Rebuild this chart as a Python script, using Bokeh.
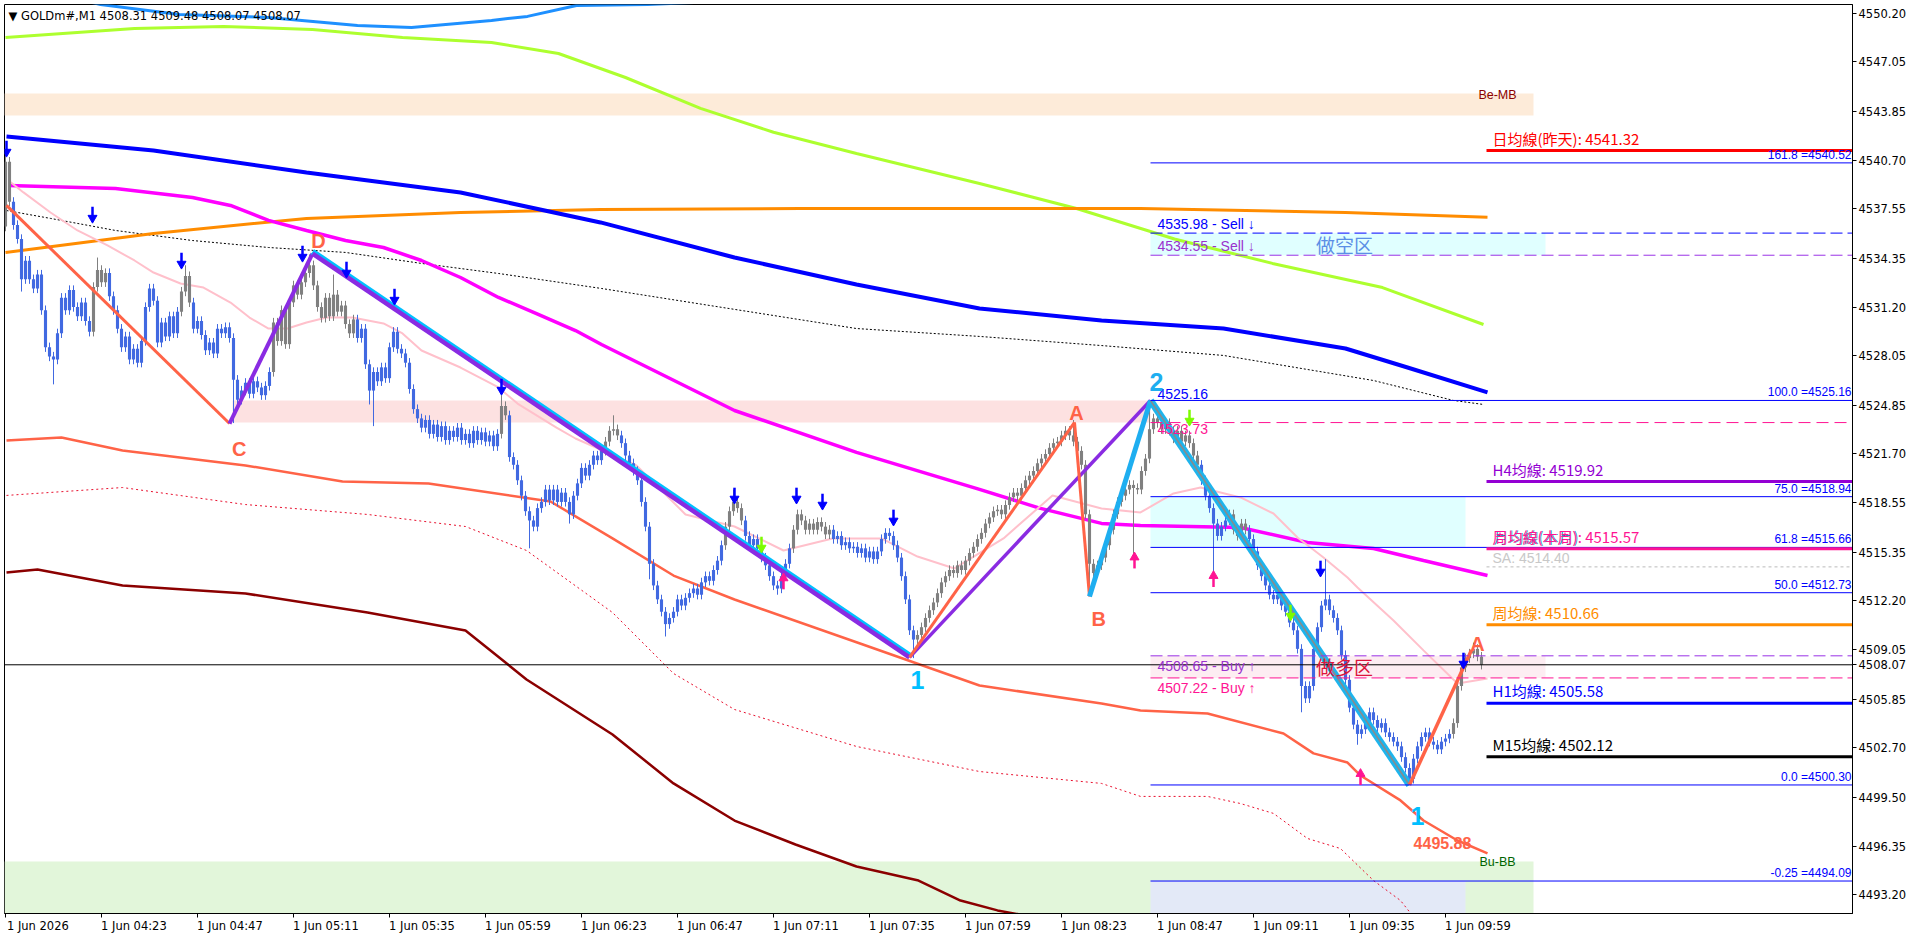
from bokeh.plotting import figure
from bokeh.models import Range1d, FixedTicker, BoxAnnotation, LinearAxis
from bokeh.core.properties import value
from bokeh.embed import file_html
from bokeh.resources import INLINE

# ---------------- data ----------------
x_tick_bars = [0, 24, 48, 72, 96, 120, 144, 168, 192, 216, 240, 264, 288, 312, 336, 360]
x_tick_labels = ["1 Jun 2026", "1 Jun 04:23", "1 Jun 04:47", "1 Jun 05:11", "1 Jun 05:35",
                 "1 Jun 05:59", "1 Jun 06:23", "1 Jun 06:47", "1 Jun 07:11", "1 Jun 07:35",
                 "1 Jun 07:59", "1 Jun 08:23", "1 Jun 08:47", "1 Jun 09:11", "1 Jun 09:35",
                 "1 Jun 09:59"]
y_ticks = [4493.20, 4496.35, 4499.50, 4502.70, 4505.85, 4509.05, 4512.20, 4515.35, 4518.55,
           4521.70, 4524.85, 4528.05, 4531.20, 4534.35, 4537.55, 4540.70, 4543.85, 4547.05,
           4550.20]

open_first = 4536.4
closes = [
    4540.6, 4538.0, 4536.5, 4535.6, 4533.0, 4534.2, 4533.0, 4532.4, 4533.3, 4531.0,
    4528.6, 4528.0, 4527.8, 4529.5, 4531.8, 4531.0, 4532.3, 4531.2, 4530.6, 4531.5,
    4530.3, 4529.6, 4532.5, 4533.6, 4532.8, 4533.4, 4531.9, 4531.0, 4529.8, 4528.6,
    4529.3, 4527.8, 4528.5, 4527.6, 4529.0, 4531.2, 4532.4, 4531.6, 4528.9, 4530.2,
    4529.3, 4530.6, 4529.5, 4530.9, 4532.2, 4533.2, 4531.5, 4529.8, 4530.3, 4529.4,
    4528.4, 4528.9, 4528.2, 4529.8, 4529.5, 4529.9, 4529.2, 4526.5, 4525.2, 4525.8,
    4526.3, 4525.6, 4526.4, 4526.0, 4525.5, 4526.1, 4527.0, 4530.2, 4529.0, 4531.0,
    4528.8, 4531.5, 4532.6, 4532.0, 4532.8, 4533.4, 4533.9, 4532.6, 4531.2, 4530.5,
    4531.8, 4530.6, 4532.0, 4530.9, 4531.3, 4530.1, 4529.5, 4530.4, 4529.2, 4529.8,
    4527.5, 4525.8, 4527.0, 4526.4, 4527.3, 4526.6, 4528.6, 4529.6, 4528.5, 4528.2,
    4527.6, 4525.9, 4524.6, 4524.0, 4523.4, 4523.9, 4523.0, 4523.6, 4522.8, 4523.5,
    4522.6, 4523.2, 4522.8, 4523.4, 4522.6, 4523.0, 4522.4, 4523.2, 4522.6, 4523.1,
    4522.5, 4522.9, 4522.2, 4523.0, 4524.8, 4524.2, 4521.5, 4521.0, 4520.0, 4519.0,
    4518.0, 4517.4, 4517.0, 4518.2, 4518.6, 4519.4, 4518.7, 4519.4, 4518.6, 4519.2,
    4518.6, 4517.8, 4519.0, 4519.8, 4520.8, 4520.3, 4521.0, 4521.6, 4521.3, 4521.9,
    4522.5, 4523.2, 4523.3, 4522.9, 4522.4, 4521.6, 4521.1, 4520.6, 4520.0, 4518.6,
    4517.0, 4514.6, 4513.2, 4512.3, 4511.5, 4510.7, 4511.1, 4511.5, 4512.3, 4511.9,
    4512.4, 4512.7, 4513.0, 4512.6, 4513.4, 4513.8, 4513.5, 4514.2, 4514.8, 4515.8,
    4517.0, 4518.0, 4518.6, 4518.2, 4517.4, 4516.4, 4515.8, 4516.2, 4515.6, 4515.0,
    4514.5, 4513.8, 4513.2, 4513.0, 4513.8, 4514.6, 4515.6, 4516.8, 4517.8, 4517.4,
    4516.8, 4517.2, 4516.8, 4517.3, 4517.0, 4516.5, 4516.8, 4516.2, 4516.4, 4515.8,
    4516.0, 4515.6, 4515.7, 4515.3, 4515.6, 4515.0, 4515.4, 4514.9, 4515.4, 4516.2,
    4516.6, 4516.4, 4515.8, 4515.0, 4513.8, 4512.3, 4510.3, 4509.7, 4510.0, 4510.5,
    4511.1, 4511.6, 4512.1, 4512.7, 4513.4, 4513.8, 4514.2, 4514.0, 4514.5, 4514.2,
    4514.8, 4515.3, 4515.7, 4516.2, 4516.6, 4517.2, 4517.6, 4518.0, 4518.1, 4517.8,
    4518.4, 4518.9, 4519.2, 4519.0, 4519.5, 4520.0, 4520.3, 4520.6, 4521.1, 4521.4,
    4521.7, 4522.1, 4522.4, 4522.5, 4522.9, 4523.2, 4522.9, 4522.5, 4521.9, 4521.0,
    4517.8, 4514.6, 4514.0, 4514.5, 4515.0, 4515.8, 4516.8, 4517.8, 4518.6, 4519.0,
    4519.4, 4519.7, 4519.5, 4519.4, 4520.6, 4521.4, 4523.3, 4524.0, 4523.7, 4523.3,
    4523.7, 4523.2, 4522.7, 4523.2, 4522.5, 4522.9, 4522.4, 4521.6, 4521.0, 4520.0,
    4519.0, 4518.2, 4517.2, 4516.4, 4517.0, 4517.4, 4517.8, 4516.8, 4516.4, 4517.2,
    4516.8, 4516.2, 4515.4, 4514.5, 4513.8, 4513.2, 4512.6, 4512.3, 4512.6, 4511.9,
    4511.5, 4510.8, 4510.3, 4509.1, 4506.7, 4505.9, 4506.7, 4509.1, 4510.5, 4511.9,
    4512.3, 4511.6, 4511.1, 4510.3, 4508.7, 4507.1, 4505.3, 4504.2, 4503.6, 4503.9,
    4504.3, 4505.0, 4504.5, 4504.0, 4504.3, 4503.7, 4503.4, 4503.1, 4502.8, 4502.1,
    4501.4, 4500.7, 4502.0, 4502.8, 4503.4, 4503.7, 4503.1, 4502.9, 4502.6, 4503.1,
    4503.3, 4503.6, 4504.3, 4506.7, 4507.9, 4508.5, 4508.8, 4509.1, 4508.6, 4508.07,
]
spike_hi_bars = [0, 23, 45, 76, 82, 124, 152, 182, 267, 286, 330, 367]
spike_hi_vals = [4541.0, 4534.4, 4533.9, 4534.6, 4533.3, 4525.5, 4524.2, 4519.4, 4523.9, 4525.16, 4514.9, 4509.5]
spike_lo_bars = [4, 12, 57, 91, 92, 131, 141, 161, 165, 193, 227, 271, 282, 302, 324, 338, 351]
spike_lo_vals = [4532.2, 4526.2, 4523.7, 4524.9, 4523.5, 4515.6, 4517.2, 4513.6, 4509.9, 4512.6, 4508.5,
                 4512.5, 4514.9, 4513.6, 4505.0, 4502.9, 4500.3]
gray_ranges = [(0, 1), (22, 25), (44, 46), (67, 87), (124, 125), (150, 153), (180, 184),
               (197, 206), (228, 298), (306, 310), (362, 369)]

# moving averages (bar index, price)
ma_dodger_x = [15, 23.75, 43.5, 65.75, 88, 101.5, 121.5, 130.5, 142.75, 160.5, 200]
ma_dodger_y = [4551.3, 4550.76, 4550.11, 4549.92, 4549.4, 4549.27, 4549.73, 4549.99, 4550.7, 4550.76, 4551.2]
ma_lime_x = [0, 32.25, 54.5, 76.75, 99.25, 121.5, 138.25, 155, 173.75, 192, 212.75, 243.5, 267.75, 292.25,
             316.75, 344.25, 369.5]
ma_lime_y = [4548.63, 4549.21, 4549.34, 4549.15, 4548.63, 4548.3, 4547.59, 4546.04, 4544.04, 4542.5, 4541.13,
             4539.19, 4537.57, 4535.6, 4534.02, 4532.46, 4530.07]
ma_orange_x = [0, 37, 75.25, 113.75, 148.75, 198.75, 283.75, 335, 370.5]
ma_orange_y = [4534.73, 4535.96, 4536.93, 4537.31, 4537.51, 4537.57, 4537.57, 4537.31, 4537.0]
ma_blue_x = [0.25, 37, 75.25, 113.75, 148.75, 182.25, 212.75, 243.5, 274, 304.5, 335, 350.5, 370.5]
ma_blue_y = [4542.23, 4541.32, 4539.9, 4538.61, 4536.67, 4534.4, 4532.66, 4531.11, 4530.33, 4529.81, 4528.52,
             4527.29, 4525.68]
ma_magenta_x = [0.75, 27.5, 46.75, 56.25, 65.75, 75.25, 85, 94.5, 104, 113.75, 123.25, 132.75, 142.5, 149,
                182.25, 212.75, 243.5, 258.75, 274, 283.75, 308.75, 325.5, 342, 354.5, 370.5]
ma_magenta_y = [4539.06, 4538.87, 4538.28, 4537.77, 4536.8, 4536.15, 4535.5, 4535.05, 4534.21, 4533.11, 4531.82,
                4530.78, 4529.68, 4528.78, 4524.51, 4521.8, 4519.41, 4518.18, 4517.21, 4517.08, 4516.95, 4515.98,
                4515.59, 4514.81, 4513.84]
ma_dot_x = [0.25, 11.25, 27.5, 46.75, 65.75, 85, 104, 123.25, 149, 212.75, 243.5, 274, 304.5, 342, 362, 369.5]
ma_dot_y = [4537.44, 4536.93, 4536.15, 4535.5, 4535.05, 4534.73, 4534.02, 4533.37, 4532.4, 4529.81, 4529.3,
            4528.71, 4528.07, 4526.45, 4525.16, 4524.9]
band_lo_x = [0.25, 14, 29.25, 60, 84.25, 105.75, 136.25, 151.75, 167, 182.25, 212.75, 243.5, 274, 283.75,
             300.5, 319.5, 327, 335.5, 338.75, 348.75, 354.5, 363, 370.5]
band_lo_y = [4522.57, 4522.77, 4521.93, 4520.96, 4519.92, 4519.79, 4518.63, 4516.24, 4513.84, 4512.29, 4509.53,
             4506.73, 4505.57, 4505.12, 4504.92, 4503.63, 4502.34, 4501.75, 4500.91, 4499.3, 4498.0, 4496.71, 4495.88]
band_dot_x = [0.25, 29.25, 60, 90.5, 115, 130.25, 151.75, 167, 182.25, 212.75, 243.5, 274, 283.75, 300.5,
              308.75, 317, 325.5, 333.75, 342, 348.75, 353.75]
band_dot_y = [4519.02, 4519.53, 4518.43, 4517.79, 4517.01, 4515.46, 4511.45, 4507.51, 4505.18, 4502.79, 4501.17,
              4500.4, 4499.56, 4499.56, 4499.1, 4498.46, 4496.84, 4496.19, 4494.12, 4492.83, 4491.2]
band_maroon_x = [0.25, 8, 29.25, 60, 90.5, 115, 130.25, 151.75, 167, 182.25, 197.5, 212.75, 228.25, 238.75, 248, 256.25]
band_maroon_y = [4514.04, 4514.23, 4513.2, 4512.68, 4511.45, 4510.29, 4507.12, 4503.56, 4500.4, 4498.0, 4496.45,
                 4495.03, 4494.12, 4492.83, 4492.19, 4491.8]
ma_pink_x = [0.75, 4.5, 11.25, 18, 25.5, 32.25, 37, 43.75, 49.5, 56.25, 61, 65.75, 70.5, 75.25, 80.25, 86.75,
             94.5, 99.25, 104, 113.75, 123.25, 128, 137.75, 142.5, 157.75, 170, 182.25, 194.5, 206.75, 219, 228,
             237.25, 249.5, 261.75, 274, 283.75, 292, 298.75, 308.75, 317, 323, 329.5, 335.5, 338, 347, 354.5,
             363, 370.5]
ma_pink_y = [4539.38, 4538.61, 4537.31, 4536.15, 4535.18, 4534.21, 4533.43, 4532.72, 4532.46, 4531.49, 4530.52,
             4529.81, 4529.81, 4530.2, 4530.52, 4530.52, 4530.14, 4529.49, 4528.39, 4527.29, 4526.0, 4524.96,
             4523.41, 4522.7, 4520.96, 4517.79, 4517.01, 4515.46, 4516.24, 4516.24, 4515.07, 4514.3, 4516.24,
             4519.02, 4518.18, 4517.92, 4519.15, 4519.53, 4518.89, 4517.85, 4516.3, 4515.01, 4513.71, 4513.07,
             4510.93, 4509.0, 4506.86, 4507.18]

# zigzag pivots
zz_start = (0.25, 4537.77)
piv_C = (56, 4523.67)
piv_D = (76.75, 4534.66)
piv_1a = (226, 4508.55)
piv_Aa = (267.25, 4523.74)
piv_B = (271, 4512.49)
piv_2 = (286.25, 4525.16)
piv_1b = (351, 4500.30)
piv_Ab = (366.5, 4509.03)

# levels
fib_names = ["161.8", "100.0", "75.0", "61.8", "50.0", "0.0", "-0.25"]
fib_prices = [4540.52, 4525.16, 4518.94, 4515.66, 4512.73, 4500.30, 4494.09]
sell_prices = [4535.98, 4534.55]
buy_prices = [4508.65, 4507.22]
last_price = 4508.07
mid_price = 4523.73
day_ma = 4541.32
h4_ma = 4519.92
week_now_ma = 4515.57
sa_level = 4514.40
week_ma = 4510.66
h1_ma = 4505.58
m15_ma = 4502.12
low_label = 4495.88
be_mb = (4545.0, 4543.58)
bu_bb_top = 4495.35

blue_dn_bars = [0.25, 21.75, 44, 74.25, 85.25, 97.25, 124, 182.25, 197.75, 204.25, 222, 328.75, 364.5]
blue_dn_prices = [4541.45, 4537.18, 4534.21, 4534.66, 4533.63, 4531.88, 4526.06, 4519.02, 4519.02, 4518.63,
                  4517.6, 4514.3, 4508.35]
green_dn_bars = [189, 296, 321.25]
green_dn_prices = [4515.85, 4524.06, 4511.45]
pink_up_bars = [194.5, 282.25, 302, 338.75]
pink_up_prices = [4513.45, 4514.8, 4513.6, 4500.8]

# ---------------- figure ----------------
XR = (-0.25, 461.75)
LABEL_SHIFT = 8.1
p = figure(frame_width=1848, frame_height=909, x_range=Range1d(*XR), y_range=Range1d(4491.99, 4550.76),
           output_backend="svg", toolbar_location=None, y_axis_location="right",
           min_border_left=4, min_border_top=4, min_border_right=66, min_border_bottom=26,
           background_fill_color="white", border_fill_color="white")
p.xgrid.visible = False
p.ygrid.visible = False
p.outline_line_color = "black"
p.outline_line_width = 1

AX_FONT = "DejaVu Sans"
for ax in (p.xaxis[0], p.yaxis[0]):
    ax.axis_line_color = "black"
    ax.major_tick_line_color = "black"
    ax.minor_tick_line_color = None
    ax.major_tick_in = 0
    ax.major_tick_out = 4
    ax.major_label_text_font = AX_FONT
    ax.major_label_text_font_size = "11.5px"
    ax.major_label_text_color = "black"
    ax.major_label_standoff = 2
p.xaxis.ticker = FixedTicker(ticks=x_tick_bars)
p.xaxis.major_label_overrides = {b: "" for b in x_tick_bars}
p.xaxis.major_label_standoff = 0
y_all = y_ticks + [last_price]
p.yaxis.ticker = FixedTicker(ticks=y_all)
p.yaxis.major_label_overrides = {t: f"{t:.2f}" for t in y_all}

# time labels start at their tick (MetaTrader style)
lab_pos = [round(b + LABEL_SHIFT, 2) for b in x_tick_bars]
lab_ax = LinearAxis(ticker=FixedTicker(ticks=lab_pos),
                    major_label_overrides={q: l for q, l in zip(lab_pos, x_tick_labels)},
                    axis_line_color=None, major_tick_line_color=None, minor_tick_line_color=None,
                    major_tick_in=0, major_tick_out=0, major_label_standoff=1,
                    major_label_text_font=AX_FONT, major_label_text_font_size="11.5px",
                    major_label_text_color="black")
p.add_layout(lab_ax, "below")

# boxes
def box(left, right, bottom, top, color):
    p.add_layout(BoxAnnotation(left=left, right=right, bottom=bottom, top=top, fill_color=color,
                               fill_alpha=1.0, line_color=None, level="underlay"))

box(None, 382, be_mb[1], be_mb[0], "#FDEBD9")
box(None, 382, None, bu_bb_top, "#E2F6DA")
box(piv_2[0], 365, None, fib_prices[6], "#E3E9F7")
box(piv_2[0], 385, sell_prices[1], sell_prices[0], "#E0FFFF")
box(piv_2[0], 365, fib_prices[3], fib_prices[2], "#E0FFFF")
box(piv_C[0] + 0.75, piv_2[0], mid_price, fib_prices[1], "#FDE1E1")
box(piv_2[0], 385, buy_prices[1], buy_prices[0], "#FDEDF2")

# moving averages
p.line(ma_dot_x, ma_dot_y, line_color="black", line_width=1, line_dash="2 2")
p.line(band_dot_x, band_dot_y, line_color="#E8102E", line_width=1, line_dash="2 3")
p.line(band_maroon_x, band_maroon_y, line_color="#8B0000", line_width=2.5)
p.line(band_lo_x, band_lo_y, line_color="#FF6347", line_width=2.5)
p.line(ma_dodger_x, ma_dodger_y, line_color="#1E90FF", line_width=3)
p.line(ma_lime_x, ma_lime_y, line_color="#ADFF2F", line_width=3)
p.line(ma_orange_x, ma_orange_y, line_color="#FF8C00", line_width=3)
p.line(ma_blue_x, ma_blue_y, line_color="#0000FF", line_width=4)
p.line(ma_magenta_x, ma_magenta_y, line_color="#FF00FF", line_width=3.5)
p.line(ma_pink_x, ma_pink_y, line_color="#FFC0CB", line_width=2)

# candles
n = len(closes)
idx = list(range(n))
opens = [open_first] + closes[:-1]
highs = [max(o, c) + 0.3 for o, c in zip(opens, closes)]
lows = [min(o, c) - 0.3 for o, c in zip(opens, closes)]
for b, v in zip(spike_hi_bars, spike_hi_vals):
    highs[b] = max(highs[b], v)
for b, v in zip(spike_lo_bars, spike_lo_vals):
    lows[b] = min(lows[b], v)
colors = []
for i in idx:
    g = any(a <= i <= b for a, b in gray_ranges)
    colors.append("#808080" if g else "#4169E1")
tops = [max(o, c) for o, c in zip(opens, closes)]
bots = [min(o, c) for o, c in zip(opens, closes)]
bots = [b if t - b > 0.06 else t - 0.06 for t, b in zip(tops, bots)]
p.segment(x0=idx, y0=lows, x1=idx, y1=highs, line_color=colors, line_width=1)
p.vbar(x=idx, width=0.78, top=tops, bottom=bots, fill_color=colors, line_color=None)

# zigzag
def seg(a, b, color, w, dy=0.0):
    p.line([a[0], b[0]], [a[1] + dy, b[1] + dy], line_color=color, line_width=w)

seg(zz_start, piv_C, "#FF6347", 3)
seg(piv_C, piv_D, "#8A2BE2", 4)
seg(piv_D, piv_1a, "#00BFFF", 6, 0.12)
seg(piv_D, piv_1a, "#8A2BE2", 4.5)
seg(piv_1a, piv_2, "#8A2BE2", 3.5)
seg(piv_1a, piv_Aa, "#FF6347", 3)
seg(piv_Aa, piv_B, "#FF6347", 3)
seg(piv_B, piv_2, "#1EAEF0", 5)
seg(piv_2, piv_1b, "#1EB4EC", 7)
seg(piv_2, piv_1b, "#8A8A8A", 1.5)
seg(piv_1b, piv_Ab, "#FF6347", 3.5)

# horizontal levels
RIGHT = 470
MA_X0 = 370.25
p.segment(x0=[XR[0]], y0=[last_price], x1=[RIGHT], y1=[last_price], line_color="black", line_width=1)
p.segment(x0=[piv_2[0]] * len(fib_prices), y0=fib_prices, x1=[RIGHT] * len(fib_prices), y1=fib_prices,
          line_color="#0000FF", line_width=1)
p.segment(x0=[piv_2[0]], y0=[sell_prices[0]], x1=[RIGHT], y1=[sell_prices[0]], line_color="#0000FF",
          line_width=1, line_dash="12 5")
p.segment(x0=[piv_2[0]], y0=[sell_prices[1]], x1=[RIGHT], y1=[sell_prices[1]], line_color="#9A32E6",
          line_width=1, line_dash="12 5")
p.segment(x0=[piv_2[0]], y0=[buy_prices[0]], x1=[RIGHT], y1=[buy_prices[0]], line_color="#9A32E6",
          line_width=1, line_dash="12 5")
p.segment(x0=[piv_2[0]], y0=[buy_prices[1]], x1=[RIGHT], y1=[buy_prices[1]], line_color="#FF1493",
          line_width=1, line_dash="12 5")
p.segment(x0=[piv_2[0]], y0=[mid_price], x1=[RIGHT], y1=[mid_price], line_color="#FF1493",
          line_width=1, line_dash="12 6")
p.segment(x0=[MA_X0], y0=[sa_level], x1=[RIGHT], y1=[sa_level], line_color="#BBBBBB",
          line_width=1, line_dash="3 3")
for lvl, col in [(day_ma, "#FF0000"), (h4_ma, "#9400D3"), (week_now_ma, "#FF1493"),
                 (week_ma, "#FF8C00"), (h1_ma, "#0000FF"), (m15_ma, "#000000")]:
    p.segment(x0=[MA_X0], y0=[lvl], x1=[RIGHT], y1=[lvl], line_color=col, line_width=3)

# texts
def txt(x, y, s, color, size, align="left", baseline="bottom", font="Liberation Sans", bold=False,
        xo=0, yo=0):
    p.text(x=[x], y=[y], text=[s], text_color=color, text_font_size=f"{size}px", text_align=align,
           text_baseline=baseline, text_font=value(font), text_font_style="bold" if bold else "normal",
           x_offset=xo, y_offset=yo)

CJK = "Noto Sans CJK SC"
TX = 288.0
RX = 461.5
txt(0.75, 4550.5, "▼  GOLDm#,M1  4508.31 4509.48 4508.07 4508.07", "black", 11.5, baseline="top", font=AX_FONT)
txt(373, be_mb[0], "Be-MB", "#8B0000", 12.5, align="center", baseline="middle", yo=1)
txt(373, bu_bb_top, "Bu-BB", "#006400", 12.5, align="center", baseline="middle")
for nm, pr in zip(fib_names, fib_prices):
    txt(RX, pr, f"{nm} ={pr:.2f}", "#0000FF", 12, align="right", yo=-1)
txt(TX, fib_prices[1], f"{fib_prices[1]:.2f}", "#0000FF", 14, yo=-1)
txt(TX, mid_price, f"{mid_price:.2f}", "#FF1493", 14, baseline="top", yo=1)
txt(TX, sell_prices[0], f"{sell_prices[0]:.2f} - Sell ↓", "#0000FF", 14, yo=-1)
txt(TX, sell_prices[1], f"{sell_prices[1]:.2f} - Sell ↓", "#9A32CD", 14, yo=-1)
txt(TX, buy_prices[0], f"{buy_prices[0]:.2f} - Buy ↑", "#9A32CD", 14, baseline="top", yo=2)
txt(TX, buy_prices[1], f"{buy_prices[1]:.2f} - Buy ↑", "#FF1493", 14, baseline="top", yo=2)
txt(334.75, (sell_prices[0] + sell_prices[1]) / 2, "做空区", "#5B8FE6", 19, align="center", baseline="middle", font=CJK)
txt(334.75, (buy_prices[0] + buy_prices[1]) / 2, "做多区", "#DC143C", 19, align="center", baseline="middle", font=CJK)
LX = 371.75
txt(LX, day_ma, f"日均線(昨天): {day_ma:.2f}", "#FF0000", 15, font=CJK, yo=-2)
txt(LX, h4_ma, f"H4均線: {h4_ma:.2f}", "#9400D3", 15, font=CJK, yo=-2)
txt(LX, week_now_ma, "月均線(本月)", "#1A9FBF", 15, font=CJK, yo=-2, xo=1)
txt(LX, week_now_ma, f"周均線(本周): {week_now_ma:.2f}", "#FF1493", 15, font=CJK, yo=-2)
txt(LX, sa_level, f"SA: {sa_level:.2f}", "#C8C8C8", 14, baseline="bottom", yo=-1)
txt(LX, week_ma, f"周均線: {week_ma:.2f}", "#FF8C00", 15, font=CJK, yo=-2)
txt(LX, h1_ma, f"H1均線: {h1_ma:.2f}", "#0000FF", 15, font=CJK, yo=-2)
txt(LX, m15_ma, f"M15均線: {m15_ma:.2f}", "#000000", 15, font=CJK, yo=-2)

# pivot letters
txt(piv_C[0] + 2.4, piv_C[1], "C", "#FF6347", 20, align="center", baseline="top", bold=True, yo=14)
txt(piv_D[0] + 1.5, piv_D[1], "D", "#FF6347", 20, align="center", baseline="bottom", bold=True, yo=-2)
txt(piv_1a[0] + 2, piv_1a[1], "1", "#00BFFF", 25, align="center", baseline="top", bold=True, yo=14)
txt(piv_Aa[0] + 0.5, piv_Aa[1], "A", "#FF6347", 20, align="center", baseline="bottom", bold=True, yo=2)
txt(piv_B[0] + 2.3, piv_B[1], "B", "#FF6347", 20, align="center", baseline="top", bold=True, yo=12)
txt(piv_2[0] + 1.5, piv_2[1], "2", "#1EAEF0", 25, align="center", baseline="bottom", bold=True, yo=-9)
txt(piv_1b[0] + 2, piv_1b[1], "1", "#00BFFF", 25, align="center", baseline="top", bold=True, yo=22)
txt(piv_Ab[0] + 1.5, piv_Ab[1], "A", "#FF6347", 20, align="center", baseline="middle", bold=True, yo=-6)
txt(359.25, low_label, f"{low_label:.2f}", "#FF6347", 16, align="center", baseline="middle", bold=True, yo=-10)

# arrows (shaft + head)
def arrows(xs, ys, color, down=True, head=9, shaft=2.5):
    if down:
        p.segment(x0=xs, y0=[y + 0.5 for y in ys], x1=xs, y1=[y - 0.1 for y in ys], line_color=color,
                  line_width=shaft)
        p.scatter(x=xs, y=[y - 0.22 for y in ys], marker="inverted_triangle", size=head, fill_color=color,
                  line_color=color)
    else:
        p.segment(x0=xs, y0=[y - 0.5 for y in ys], x1=xs, y1=[y + 0.1 for y in ys], line_color=color,
                  line_width=shaft)
        p.scatter(x=xs, y=[y + 0.22 for y in ys], marker="triangle", size=head, fill_color=color,
                  line_color=color)

arrows(blue_dn_bars, blue_dn_prices, "#0000FF", True)
arrows(green_dn_bars, green_dn_prices, "#7CFC00", True)
arrows(pink_up_bars, pink_up_prices, "#FF1493", False)

open("out.html", "w").write(file_html(p, INLINE))
